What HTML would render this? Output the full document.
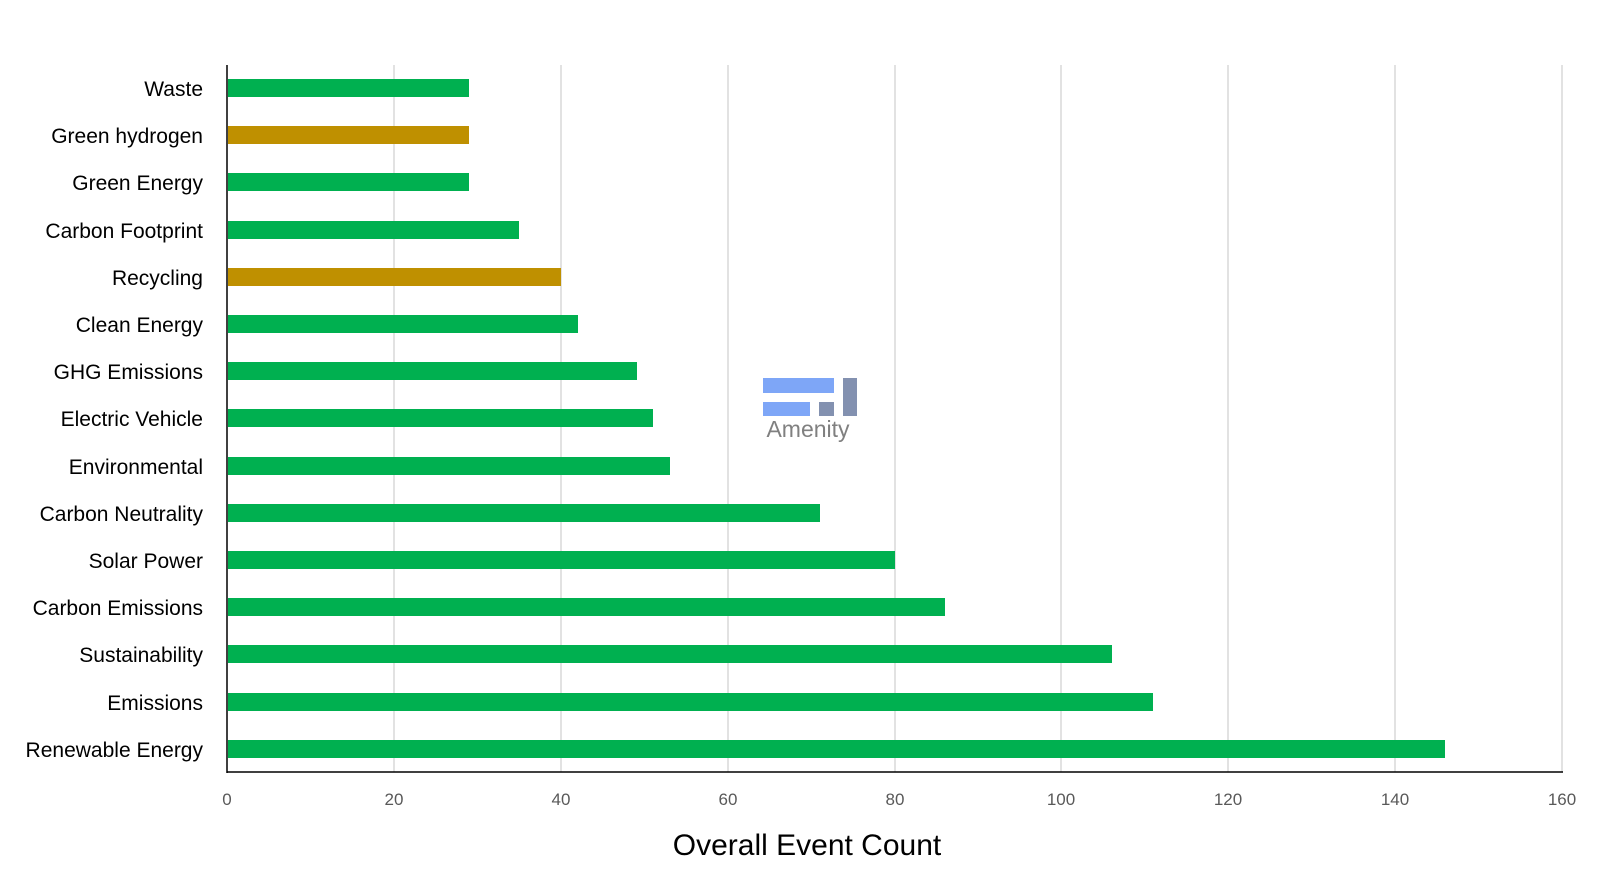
<!DOCTYPE html>
<html><head><meta charset="utf-8"><style>
body{margin:0;background:#fff;}
svg{display:block;font-family:"Liberation Sans",sans-serif;}
</style></head><body>
<svg width="1600" height="878" xmlns="http://www.w3.org/2000/svg">
<g stroke="#d9d9d9" stroke-width="1.5">
<line x1="394" y1="65" x2="394" y2="772"/><line x1="561" y1="65" x2="561" y2="772"/>
<line x1="728" y1="65" x2="728" y2="772"/><line x1="895" y1="65" x2="895" y2="772"/>
<line x1="1061" y1="65" x2="1061" y2="772"/><line x1="1228" y1="65" x2="1228" y2="772"/>
<line x1="1395" y1="65" x2="1395" y2="772"/><line x1="1562" y1="65" x2="1562" y2="772"/>
</g>
<g>
<rect x="228" y="79" width="241" height="18" fill="#00b050"/>
<rect x="228" y="126" width="241" height="18" fill="#bf9000"/>
<rect x="228" y="173" width="241" height="18" fill="#00b050"/>
<rect x="228" y="221" width="291" height="18" fill="#00b050"/>
<rect x="228" y="268" width="333" height="18" fill="#bf9000"/>
<rect x="228" y="315" width="350" height="18" fill="#00b050"/>
<rect x="228" y="362" width="409" height="18" fill="#00b050"/>
<rect x="228" y="409" width="425" height="18" fill="#00b050"/>
<rect x="228" y="457" width="442" height="18" fill="#00b050"/>
<rect x="228" y="504" width="592" height="18" fill="#00b050"/>
<rect x="228" y="551" width="667" height="18" fill="#00b050"/>
<rect x="228" y="598" width="717" height="18" fill="#00b050"/>
<rect x="228" y="645" width="884" height="18" fill="#00b050"/>
<rect x="228" y="693" width="925" height="18" fill="#00b050"/>
<rect x="228" y="740" width="1217" height="18" fill="#00b050"/>
</g>
<line x1="227" y1="65" x2="227" y2="773" stroke="#000" stroke-width="1.5"/>
<line x1="227" y1="772" x2="1563" y2="772" stroke="#000" stroke-width="1.5"/>
<g font-size="21" fill="#000" text-anchor="end">
<text x="203" y="96">Waste</text><text x="203" y="143">Green hydrogen</text>
<text x="203" y="190">Green Energy</text><text x="203" y="238">Carbon Footprint</text>
<text x="203" y="285">Recycling</text><text x="203" y="332">Clean Energy</text>
<text x="203" y="379">GHG Emissions</text><text x="203" y="426">Electric Vehicle</text>
<text x="203" y="474">Environmental</text><text x="203" y="521">Carbon Neutrality</text>
<text x="203" y="568">Solar Power</text><text x="203" y="615">Carbon Emissions</text>
<text x="203" y="662">Sustainability</text><text x="203" y="710">Emissions</text>
<text x="203" y="757">Renewable Energy</text>
</g>
<g font-size="17" fill="#595959" text-anchor="middle">
<text x="227" y="805">0</text><text x="394" y="805">20</text><text x="561" y="805">40</text>
<text x="728" y="805">60</text><text x="895" y="805">80</text><text x="1061" y="805">100</text>
<text x="1228" y="805">120</text><text x="1395" y="805">140</text><text x="1562" y="805">160</text>
</g>
<text x="807" y="855" font-size="30" text-anchor="middle" fill="#000">Overall Event Count</text>
<rect x="763" y="378" width="71" height="15" fill="#7ea6f7"/>
<rect x="763" y="402" width="47" height="14" fill="#7ea6f7"/>
<rect x="819" y="402" width="15" height="14" fill="#8391b0"/>
<rect x="843" y="378" width="14" height="38" fill="#8391b0"/>
<text x="808" y="437" font-size="23" fill="#808080" text-anchor="middle">Amenity</text>
</svg>
</body></html>
